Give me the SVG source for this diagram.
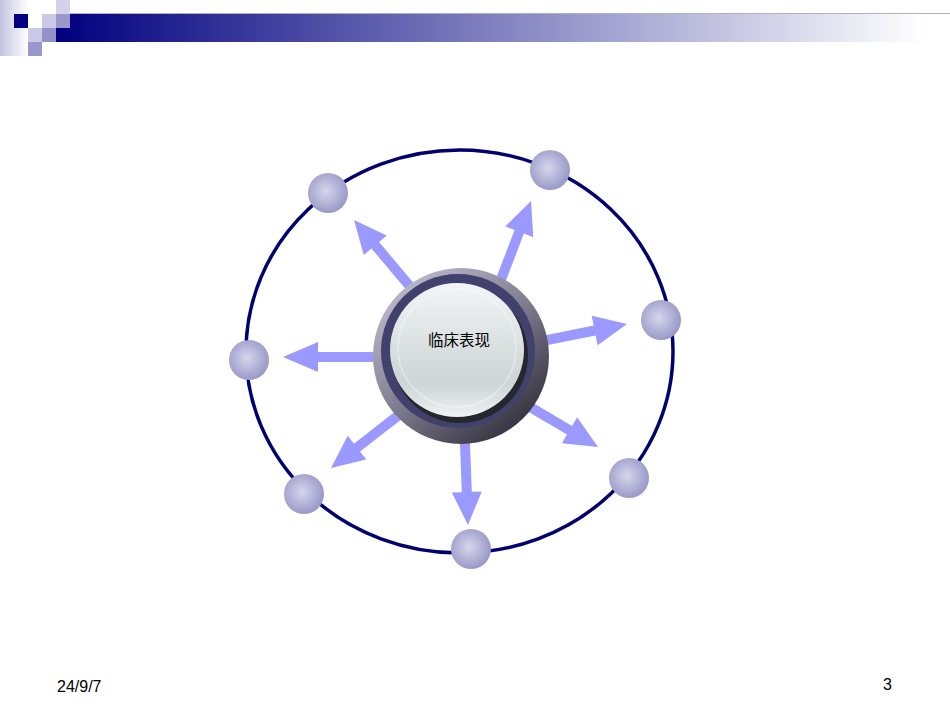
<svg xmlns="http://www.w3.org/2000/svg" width="950" height="713" viewBox="0 0 950 713">
<defs>
<linearGradient id="barG" x1="56" y1="0" x2="950" y2="0" gradientUnits="userSpaceOnUse">
<stop offset="0" stop-color="#00007f"/><stop offset="0.97" stop-color="#ffffff"/></linearGradient>
<linearGradient id="leftG" x1="0" y1="0" x2="1" y2="0">
<stop offset="0" stop-color="#c4c4e2"/><stop offset="1" stop-color="#ffffff"/></linearGradient>
<radialGradient id="sph" cx="0.45" cy="0.45" r="0.6">
<stop offset="0" stop-color="#d6d6ec"/><stop offset="1" stop-color="#9494c6"/></radialGradient>
<linearGradient id="knobG" x1="0.2" y1="0.1" x2="0.85" y2="0.9">
<stop offset="0" stop-color="#b6b4c6"/><stop offset="0.5" stop-color="#7c7a8c"/><stop offset="1" stop-color="#34323e"/></linearGradient>
<linearGradient id="faceG" x1="0" y1="0" x2="0" y2="1">
<stop offset="0" stop-color="#f2f5f5"/><stop offset="0.45" stop-color="#dbe1e1"/><stop offset="0.75" stop-color="#cdd5d5"/><stop offset="1" stop-color="#eef2f2"/></linearGradient>
<style>
.arrow{fill:#9999ff}
.sphere{fill:url(#sph)}
.orbit{fill:none;stroke:#000070;stroke-width:3.5}
.foot{font-family:"Liberation Sans",Arial,sans-serif;font-size:16px;fill:#000}
</style>
</defs>
<rect width="950" height="713" fill="#fff"/>
<g id="header">
<rect x="0" y="0" width="28" height="56" fill="url(#leftG)"/>
<rect x="56" y="14" width="894" height="28" fill="url(#barG)"/>
<rect x="56" y="13" width="894" height="1" fill="#b0b0c0"/>
<rect x="14" y="14" width="14" height="14" fill="#000080"/>
<rect x="42" y="14" width="14" height="14" fill="#cacae6"/>
<rect x="56" y="0" width="14" height="14" fill="#d2d2ea"/>
<rect x="56" y="14" width="14" height="14" fill="#9898cc"/>
<rect x="28" y="28" width="14" height="14" fill="#cacae6"/>
<rect x="42" y="28" width="14" height="14" fill="#9292c8"/>
<rect x="28" y="42" width="14" height="14" fill="#9898cc"/>
</g>
<g id="orbit"><ellipse class="orbit" cx="459.5" cy="351.5" rx="213.5" ry="201.5"/></g>
<g id="connectors">
<path class="arrow" transform="translate(354,220) rotate(-130.1)" d="M0,0 L-33,-15 V-5 H-94 V5 H-33 V15 Z"/>
<path class="arrow" transform="translate(531,201) rotate(-69.1)" d="M0,0 L-33,-15 V-5 H-93 V5 H-33 V15 Z"/>
<path class="arrow" transform="translate(627,324) rotate(-11.4)" d="M0,0 L-33,-15 V-5 H-92 V5 H-33 V15 Z"/>
<path class="arrow" transform="translate(283,357) rotate(180)" d="M0,0 L-35,-15 V-5 H-100 V5 H-35 V15 Z"/>
<path class="arrow" transform="translate(331,468) rotate(142)" d="M0,0 L-33,-15 V-5 H-93 V5 H-33 V15 Z"/>
<path class="arrow" transform="translate(468,525) rotate(87.9)" d="M0,0 L-33,-15 V-5 H-94 V5 H-33 V15 Z"/>
<path class="arrow" transform="translate(598,447) rotate(30.5)" d="M0,0 L-33,-15 V-5 H-82 V5 H-33 V15 Z"/>
</g>
<g id="node1"><circle class="sphere" cx="328" cy="193" r="20"/></g>
<g id="node2"><circle class="sphere" cx="550" cy="170" r="20"/></g>
<g id="node3"><circle class="sphere" cx="661" cy="320" r="20"/></g>
<g id="node4"><circle class="sphere" cx="249" cy="360" r="20"/></g>
<g id="node5"><circle class="sphere" cx="304" cy="494" r="20"/></g>
<g id="node6"><circle class="sphere" cx="629" cy="478" r="20"/></g>
<g id="node7"><circle class="sphere" cx="471" cy="549" r="20"/></g>
<g id="center">
<circle cx="461" cy="356" r="88" fill="url(#knobG)"/>
<circle cx="458" cy="351" r="77" fill="#42406c"/>
<circle cx="460" cy="355" r="68" fill="#26262e"/>
<circle cx="457" cy="350" r="67" fill="url(#faceG)"/>
<circle cx="457" cy="348" r="59" fill="none" stroke="#ffffff" stroke-opacity="0.3" stroke-width="2"/>
<text x="459" y="346" text-anchor="middle" font-family="'Noto Sans CJK SC','Noto Sans',sans-serif" font-size="15.5" fill="#000">临床表现</text>
</g>
<text class="foot" x="57" y="692">24/9/7</text>
<text class="foot" x="883" y="690">3</text>
</svg>
